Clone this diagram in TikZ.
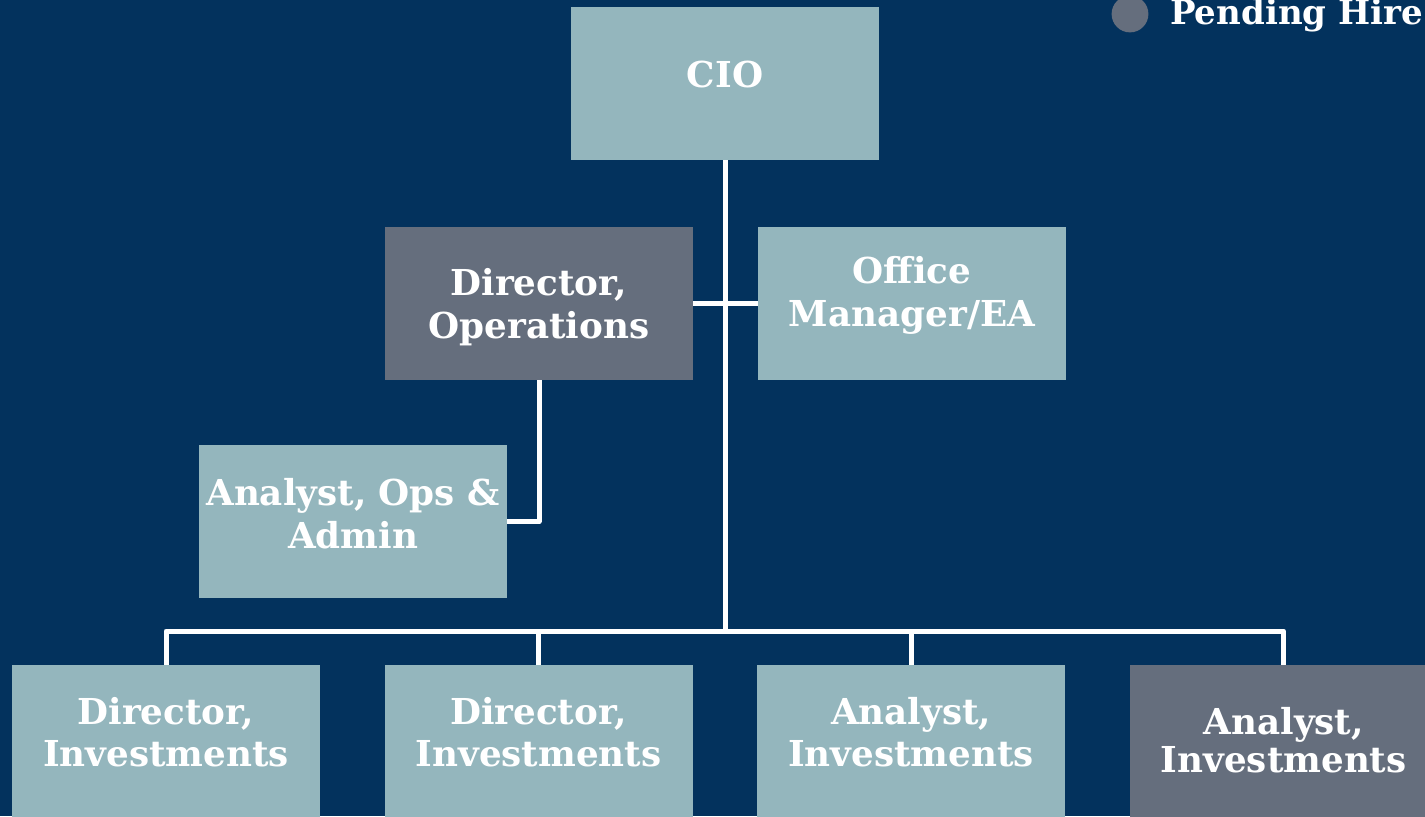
\documentclass[tikz,border=0pt]{standalone}
\usepackage{fontspec}
\setmainfont{DejaVu Serif}
\usepackage{xcolor}
\usetikzlibrary{positioning, calc}

\definecolor{navy}{HTML}{03325D}
\definecolor{filled}{HTML}{94B6BD}
\definecolor{pending}{HTML}{656E7D}

\begin{document}
\begin{tikzpicture}[
  box/.style={rectangle, fill=filled, minimum width=7.7cm, minimum height=3.825cm, inner sep=0pt, text depth=0.45cm, align=center, text=white, font=\fontsize{25.4}{30}\selectfont\bfseries},
  link/.style={draw=white, line width=0.125cm, line join=round}
]
  \fill[navy] (0,0) rectangle (35.625,20.4);
  \useasboundingbox (0,0) rectangle (35.625,20.4);

  % top of the chart
  \node[box] (cio) at (18.125,18.3125) {CIO};
  \node[box, fill=pending, text depth=0cm] (dirops) at (13.475,12.8125) {Director,\\Operations};
  \node[box, text depth=0.6cm] (office) at (22.8,12.8125) {Office\\Manager/EA};
  \node[box, text depth=0.4cm] (anaops) at (8.825,7.3625) {Analyst, Ops \&\\Admin};

  % investment team along the bottom
  \node[box, text depth=0.5cm, anchor=north] (dirinv1) at (4.15,3.775) {Director,\\Investments};
  \node[box, text depth=0.5cm, right=1.6cm of dirinv1] (dirinv2) {Director,\\Investments};
  \node[box, text depth=0.5cm, right=1.6cm of dirinv2] (anainv1) {Analyst,\\Investments};
  \node[box, fill=pending, text depth=0.1cm, font=\fontsize{25.4}{27.5}\selectfont\bfseries, right=1.6cm of anainv1] (anainv2) {Analyst,\\Investments};

  % legend
  \node[circle, fill=pending, minimum size=0.92cm, inner sep=0pt] (dot) at (28.25,20.05) {};
  \node[anchor=base west, text=white, inner sep=0pt, font=\fontsize{24.2}{29}\selectfont\bfseries] (pendlbl) at (29.25,19.775) {Pending Hire};

  \coordinate (bus) at ($(dirinv1.north)+(0,0.85)$);
  \draw[link] (cio.south) -- (cio.south |- bus);
  \draw[link] (dirinv1.north) |- (anainv2.north |- bus) -- (anainv2.north);
  \draw[link] (dirinv2.north) -- (dirinv2.north |- bus);
  \draw[link] (anainv1.north) -- (anainv1.north |- bus);
  \draw[link] (dirops.east) -- (office.west);
  \draw[link] (dirops.south) |- (anaops.east);
\end{tikzpicture}
\end{document}
